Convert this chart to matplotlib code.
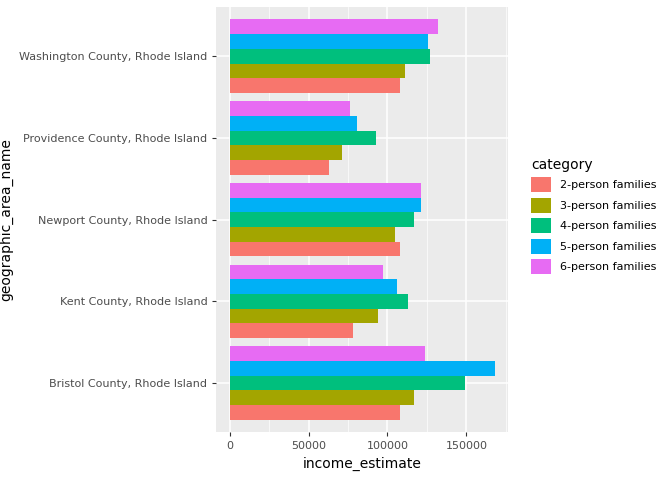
import matplotlib
matplotlib.use("Agg")
import matplotlib.pyplot as plt
import numpy as np
from matplotlib.patches import Patch

areas = ["Bristol County, Rhode Island", "Kent County, Rhode Island", "Newport County, Rhode Island",
         "Providence County, Rhode Island", "Washington County, Rhode Island"]
categories = ["2-person families", "3-person families", "4-person families", "5-person families", "6-person families"]
colors = ["#F8766D", "#A3A500", "#00BF7D", "#00B0F6", "#E76BF3"]
values = {
    "2-person families": [108000, 78000, 108000, 63000, 108000],
    "3-person families": [117000, 94000, 105000, 71000, 111000],
    "4-person families": [149000, 113000, 117000, 93000, 127000],
    "5-person families": [168000, 106000, 121000, 81000, 126000],
    "6-person families": [124000, 97000, 121000, 76000, 132000],
}

fig = plt.figure(figsize=(6.72, 4.8), dpi=100)
ax = fig.add_axes([0.322, 0.1, 0.434, 0.885])
ax.set_facecolor("#EBEBEB")
w = 0.9 / 5
y = np.arange(len(areas))
for i, c in enumerate(categories):
    ax.barh(y - 0.45 + w * (i + 0.5), values[c], height=w, color=colors[i], zorder=3)
ax.set_yticks(y)
ax.set_yticklabels(areas)
ax.set_ylim(-0.6, 4.6)
ax.set_xlim(-8400, 176400)
ax.set_xticks([0, 50000, 100000, 150000])
ax.set_xticks([25000, 75000, 125000, 175000], minor=True)
ax.grid(which="major", color="white", lw=1.1, zorder=0)
ax.grid(which="minor", axis="x", color="white", lw=0.5, zorder=0)
for s in ax.spines.values():
    s.set_visible(False)
ax.tick_params(colors="#4D4D4D", labelsize=8, length=3, color="#333333")
ax.tick_params(which="minor", length=0)
ax.set_xlabel("income_estimate", fontsize=10)
ax.set_ylabel("geographic_area_name", fontsize=10)
handles = [Patch(facecolor=col, label=c) for c, col in zip(categories, colors)]
fig.legend(handles=handles, title="category", loc="center left", bbox_to_anchor=(0.775, 0.55),
           frameon=False, fontsize=8, title_fontsize=10, handlelength=1.8, handleheight=1.7,
           alignment="left")
fig.savefig("out.png", dpi=100)
